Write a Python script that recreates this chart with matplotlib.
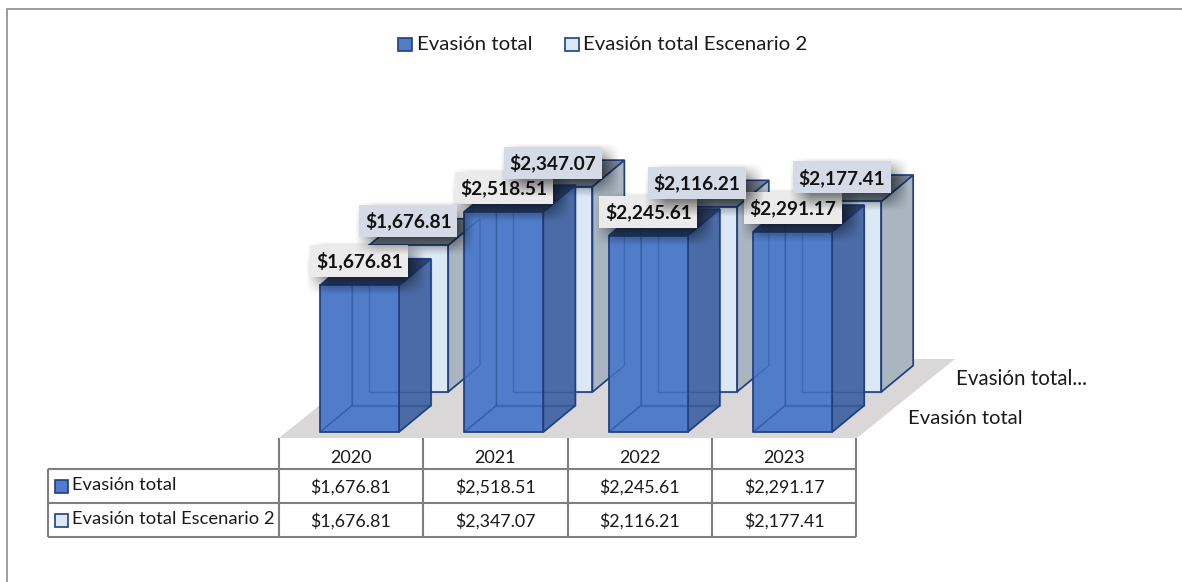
import numpy as np
import matplotlib
matplotlib.use('Agg')
import matplotlib.pyplot as plt
from matplotlib.patches import Polygon, Rectangle

years = ['2020', '2021', '2022', '2023']
series_names = ['Evasión total', 'Evasión total Escenario 2']
evasion = [1676.81, 2518.51, 2245.61, 2291.17]
escenario = [1676.81, 2347.07, 2116.21, 2177.41]

plt.rcParams['font.family'] = ['Lato', 'DejaVu Sans']

W, H = 1182, 582
# chart axes: x in category steps, y in dollars
STEP = 144.4    # px per category
SCALE = 0.0875  # px per dollar
X0, Y0 = 320, 432
BAR_W = 79 / STEP
DEPTH_X, DEPTH_Y = 32 / STEP, 26.5 / SCALE
BACK_X, BACK_Y = 49 / STEP, 40 / SCALE

EDGE = '#1f3f7f'
BACK_FACES = ('#dce8f5', '#a9b5c0', '#7d8895')
FRONT_FACES = ('#507cc9', '#4a6ba5', '#2f4672')

fig = plt.figure(figsize=(W / 100, H / 100), dpi=100)

# pixel axes for the frame, floor, legend and table
px = fig.add_axes([0, 0, 1, 1], zorder=0)
px.set_xlim(0, W)
px.set_ylim(H, 0)
px.axis('off')

ax = fig.add_axes([0, 0, 1, 1], zorder=1)
ax.axis('off')
ax.patch.set_alpha(0)

# frame
px.plot([6.5, 6.5, W], [H, 8.5, 8.5], color='#8c8c8c', lw=1.2)

# floor
px.add_patch(Polygon([(279, 438), (857, 438), (955, 359), (377, 359)],
                     closed=True, fc='#d9d7d8', ec='none'))


def faces(x, v, dv):
    """Corner lists of the box faces; x and v are the lower left front corner."""
    dx = BAR_W
    xb, vb = x + DEPTH_X, v + DEPTH_Y
    return {
        'left': [(x, v), (xb, vb), (xb, vb + dv), (x, v + dv)],
        'back': [(xb, vb), (xb + dx, vb), (xb + dx, vb + dv), (xb, vb + dv)],
        'bottom': [(x, v), (x + dx, v), (xb + dx, vb), (xb, vb)],
        'right': [(x + dx, v), (xb + dx, vb), (xb + dx, vb + dv), (x + dx, v + dv)],
        'top': [(x, v + dv), (x + dx, v + dv), (xb + dx, vb + dv), (xb, vb + dv)],
        'front': [(x, v), (x + dx, v), (x + dx, v + dv), (x, v + dv)],
    }


def draw_bar(x, v, dv, colors, z):
    f = faces(x, v, dv)
    for name, c in [('right', colors[1]), ('top', colors[2]), ('front', colors[0])]:
        ax.add_patch(Polygon(f[name], closed=True, fc=c, ec=EDGE, lw=1.2, zorder=z))


def draw_ghost(x, v, dv, names, z, alpha):
    # outline only, for edges that show through the front bars
    f = faces(x, v, dv)
    for name in names:
        ax.add_patch(Polygon(f[name], closed=True, fc='none', ec=EDGE, lw=1.0,
                             alpha=alpha, zorder=z))


def shadow(x0, x1, v0, v1, z):
    # soft drop shadow to the lower right of a label box
    s = 22.0
    ox, oy = 7 / STEP, -7 / SCALE
    sx, sv = s / STEP, s / SCALE
    xs = np.linspace(x0 - sx + ox, x1 + sx + ox, 120)
    vs = np.linspace(v1 + sv + oy, v0 - sv + oy, 80)
    X, V = np.meshgrid(xs, vs)
    a = (np.clip((X - x0 - ox) / sx + .5, 0, 1) * np.clip((x1 + ox - X) / sx + .5, 0, 1)
         * np.clip((V - v0 - oy) / sv + .5, 0, 1) * np.clip((v1 + oy - V) / sv + .5, 0, 1))
    img = np.zeros(a.shape + (4,))
    img[..., 3] = a * 0.62
    ax.imshow(img, extent=(xs[0], xs[-1], vs[-1], vs[0]), origin='upper', aspect='auto',
              zorder=z, interpolation='bilinear')


def label(x, base, v, color, z):
    w, h = 98 / STEP, 32 / SCALE
    cx = x + BAR_W / 2
    cv = base + v + 24 / SCALE
    shadow(cx - w / 2, cx + w / 2, cv - h / 2, cv + h / 2, z)
    ax.add_patch(Rectangle((cx - w / 2, cv - h / 2), w, h, fc=color, ec='none', zorder=z + 0.1))
    ax.text(cx, cv, f'${v:,.2f}', ha='center', va='center', fontsize=13.8, fontweight='bold',
            color='#111111', zorder=z + 0.2)


xpos = np.arange(len(years))
for i in xpos:
    draw_bar(i + BACK_X, BACK_Y, escenario[i], BACK_FACES, 2)
for i in xpos:
    draw_bar(i, 0, evasion[i], FRONT_FACES, 3)
    draw_ghost(i, 0, evasion[i], ['left', 'back', 'bottom'], 3.2, 0.3)
for i in xpos:
    draw_ghost(i + BACK_X, BACK_Y, escenario[i], ['right', 'front'], 3.1, 0.3)

# front labels first, the back series sits on top of them
for i in xpos:
    label(i, 0, evasion[i], '#ebebeb', 5 + 0.3 * i)
for i in xpos:
    label(i + BACK_X, BACK_Y, escenario[i], '#d5dbe6', 7 + 0.3 * i)

ax.set_xlim(-X0 / STEP, (W - X0) / STEP)
ax.set_ylim((Y0 - H) / SCALE, Y0 / SCALE)

TXT = '#1a1a1a'

# legend
for sx, tx, name, fc in [(398, 417, series_names[0], FRONT_FACES[0]),
                         (565, 583, series_names[1], BACK_FACES[0])]:
    px.add_patch(Rectangle((sx, 37.5), 13.5, 13.5, fc=fc, ec=EDGE, lw=1.2))
    px.text(tx, 44, name, ha='left', va='center', fontsize=14.7, color=TXT)

# depth axis labels
px.text(956, 379, 'Evasión total...', ha='left', va='center', fontsize=14.8, color=TXT)
px.text(908, 419, 'Evasión total', ha='left', va='center', fontsize=14.6, color=TXT)

# data table under the chart
col_x = [279, 423, 567.5, 712, 856]
row_y = [469, 503, 537]
GRID = '#7f7f7f'
for xv in col_x:
    px.plot([xv, xv], [438, 537], color=GRID, lw=1.5, solid_capstyle='butt')
px.plot([48, 48], [469, 537], color=GRID, lw=1.5, solid_capstyle='butt')
for yv in row_y:
    px.plot([48, 856], [yv, yv], color=GRID, lw=1.5, solid_capstyle='butt')

for j, year in enumerate(years):
    xc = (col_x[j] + col_x[j + 1]) / 2
    px.text(xc, 458, year, ha='center', va='center', fontsize=13, color=TXT)
    px.text(xc, 487, f'${evasion[j]:,.2f}', ha='center', va='center', fontsize=12.8, color=TXT)
    px.text(xc, 521, f'${escenario[j]:,.2f}', ha='center', va='center', fontsize=12.8, color=TXT)

for ry, name, fc in [(486, series_names[0], FRONT_FACES[0]), (520, series_names[1], BACK_FACES[0])]:
    px.add_patch(Rectangle((55, ry - 6.5), 12.5, 13, fc=fc, ec=EDGE, lw=1.2))
    px.text(72, ry - 0.5, name, ha='left', va='center', fontsize=13.2, color=TXT)

fig.savefig('out.png', dpi=100, facecolor='white')
